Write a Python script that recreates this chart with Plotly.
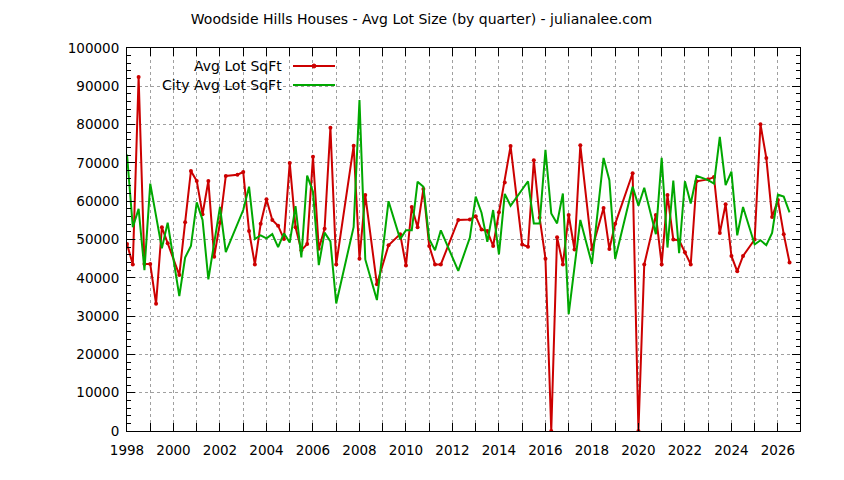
import plotly.graph_objects as go

# Quarter index (0 = 1998 Q1) and values
red_q = [0, 1, 2, 3, 4, 5, 6, 7, 9, 10, 11, 12, 13, 14, 15, 16, 17, 19, 20, 21, 22, 23, 24, 25, 26, 27,
         28, 29, 30, 31, 32, 33, 34, 35, 36, 39, 40, 41, 43, 45, 47, 48, 49, 50, 51, 52, 53, 54, 57, 59,
         60, 61, 62, 63, 64, 65, 66, 68, 69, 70, 71, 72, 73, 74, 75, 76, 77, 78, 80, 82, 83, 84, 87, 88,
         89, 91, 92, 93, 94, 95, 96, 97, 98, 100, 101, 102, 103, 104, 105, 106, 108, 109, 110, 111, 112,
         113, 114]
red_v = [48800, 43500, 92400, 43600, 43600, 33200, 53200, 49000, 40700, 54500, 67900, 65300, 56600,
         65300, 45500, 54400, 66600, 66900, 67600, 52200, 43500, 54100, 60500, 55100, 53600, 50100,
         70000, 53200, 47200, 48800, 71600, 47600, 52800, 79200, 43500, 74500, 45000, 61600, 38300,
         48500, 51400, 43200, 58500, 53200, 63200, 48300, 43500, 43500, 55100, 55200, 56100, 52600,
         52200, 48300, 57100, 64900, 74400, 48700, 48100, 70700, 55700, 45000, 0, 50600, 43500, 56400,
         47400, 74600, 47400, 58200, 47500, 54100, 67300, 0, 43500, 56400, 43500, 61600, 50000, 49800,
         46700, 43500, 65200, 65700, 66300, 51700, 59200, 45700, 41700, 45700, 50000, 80100, 71300,
         55900, 60300, 51400, 44000]

green_q = [0, 1, 2, 3, 4, 6, 7, 9, 10, 11, 12, 13, 14, 16, 17, 20, 21, 22, 23, 24, 25, 26, 27, 28, 29,
           30, 31, 32, 33, 34, 35, 36, 39, 40, 41, 43, 45, 47, 48, 49, 50, 51, 52, 53, 54, 57, 59, 60,
           61, 62, 63, 64, 65, 66, 69, 70, 71, 72, 73, 74, 75, 76, 78, 80, 82, 83, 84, 87, 88, 89, 91,
           92, 93, 94, 95, 96, 97, 98, 100, 101, 102, 103, 104, 105, 106, 108, 109, 110, 111, 112, 113,
           114]
green_v = [72200, 53200, 58000, 42000, 64600, 47700, 54400, 35200, 45300, 48300, 59700, 55100, 39600,
           58500, 46700, 57700, 63800, 50100, 51100, 50300, 51400, 48000, 51600, 49200, 58700, 45300,
           66700, 62500, 43300, 51800, 49500, 33300, 53300, 86400, 44800, 34200, 60000, 50100, 52400,
           52400, 65100, 63800, 50100, 47200, 52400, 41800, 50500, 61200, 57000, 49400, 57700, 46100,
           61900, 58800, 65200, 54200, 54200, 73400, 56800, 54200, 62000, 30500, 55100, 43600, 71300,
           65500, 44900, 63800, 58800, 63500, 51400, 71300, 47900, 65400, 46400, 65200, 59400, 66600,
           65500, 64600, 76800, 64200, 67700, 51100, 58500, 48700, 49800, 48500, 51700, 61700, 61200,
           57100]

years = list(range(1998, 2027))
year_labels = [str(y) if y % 2 == 0 else "" for y in years]

title_text = "Woodside Hills Houses - Avg Lot Size (by quarter) - julianalee.com"
red_name = "Avg Lot SqFt"
green_name = "City Avg Lot SqFt"

RED = "#cc0000"
GREEN = "#00a800"
FONT = "DejaVu Sans"

red_x = [1998 + q / 4 for q in red_q]
green_x = [1998 + q / 4 for q in green_q]

fig = go.Figure()
fig.add_trace(go.Scatter(x=red_x, y=red_v, mode="lines+markers", name=red_name,
                         line=dict(color=RED, width=2),
                         marker=dict(color=RED, size=4, symbol="circle"),
                         showlegend=False))
fig.add_trace(go.Scatter(x=green_x, y=green_v, mode="lines", name=green_name,
                         line=dict(color=GREEN, width=2),
                         showlegend=False))

# page body has an 8px margin, so the figure is drawn 8px in from the corner
OFF = 8
W, H = 844 - OFF, 480 - OFF
L, R, T, B = 127 - OFF, 44, 48 - OFF, 49

fig.update_layout(
    width=W, height=H,
    margin=dict(l=L, r=R, t=T, b=B, autoexpand=False),
    paper_bgcolor="white", plot_bgcolor="white",
    font=dict(family=FONT, size=14, color="black"),
    title=dict(text=title_text, x=(421.5 - OFF) / W, xref="container", xanchor="center",
               y=1 - (19 - OFF) / H, yref="container", yanchor="middle",
               font=dict(family=FONT, size=14, color="black")),
    xaxis=dict(range=[1998, 2026.95], tickvals=years, ticktext=year_labels,
               ticks="inside", ticklen=8, tickcolor="black", ticklabelstandoff=7,
               showline=True, linecolor="black", linewidth=1, mirror="ticks",
               showgrid=True, gridcolor="#a0a0a0", gridwidth=1, griddash="dot",
               zeroline=False, tickfont=dict(family=FONT, size=13.5)),
    yaxis=dict(range=[0, 100000], dtick=10000, tickformat="d",
               ticks="inside", ticklen=8, tickcolor="black", ticklabelstandoff=4,
               showline=True, linecolor="black", linewidth=1, mirror="ticks",
               showgrid=True, gridcolor="#a0a0a0", gridwidth=1, griddash="dot",
               zeroline=False, tickfont=dict(family=FONT, size=13.5),
               minor=dict(dtick=2000, ticks="inside", ticklen=4, tickcolor="black",
                          showgrid=False)),
)

# Gnuplot-style key: text to the left, sample line on the right
def px_x(px):
    return (px - OFF - L) / (W - L - R)

def px_y(py):
    return 1 - (py - OFF - T) / (H - T - B)

key_rows = [(red_name, RED, 66, True), (green_name, GREEN, 85, False)]
for text, col, py, mk in key_rows:
    fig.add_annotation(x=px_x(284), y=px_y(py), xref="paper", yref="paper",
                       text=text, showarrow=False, xanchor="right", yanchor="middle",
                       font=dict(family=FONT, size=14, color="black"))
    fig.add_shape(type="line", xref="paper", yref="paper",
                  x0=px_x(293), x1=px_x(335), y0=px_y(py), y1=px_y(py),
                  line=dict(color=col, width=2))
    if mk:
        fig.add_shape(type="circle", xref="paper", yref="paper",
                      x0=px_x(312), x1=px_x(316), y0=px_y(py - 2), y1=px_y(py + 2),
                      line=dict(color=col, width=1), fillcolor=col)

fig.write_html("out.html")
